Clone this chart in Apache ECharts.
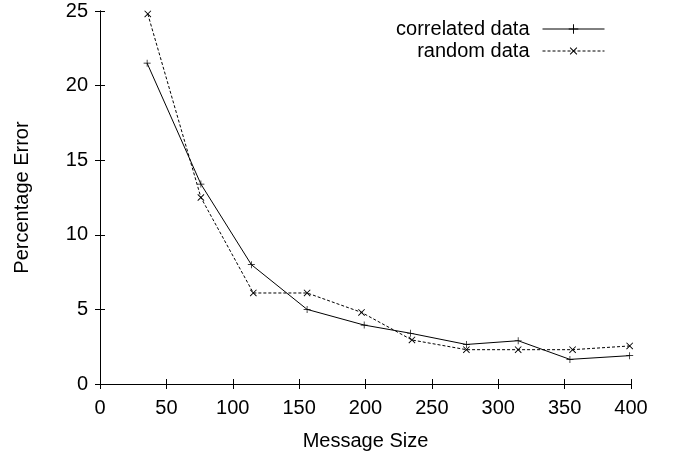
<!DOCTYPE html>
<html><head><meta charset="utf-8">
<script src="https://cdn.jsdelivr.net/npm/echarts@6/dist/echarts.min.js"></script>
<style>html,body{margin:0;padding:0;background:#fff}#c{width:676px;height:456px}</style>
</head><body><div id="c"></div>
<script>
const corrX = [35.5, 76, 114, 156, 199, 234, 276, 315, 354, 399];
const corrY = [21.5, 13.4, 8.0, 5.0, 3.95, 3.4, 2.65, 2.9, 1.65, 1.9];
const randX = [36, 76, 115.5, 156, 197, 235, 276, 315, 356, 399];
const randY = [24.8, 12.5, 6.1, 6.1, 4.8, 2.95, 2.3, 2.3, 2.3, 2.55];
const seriesNames = ['correlated data', 'random data'];
const xTicks = [0, 50, 100, 150, 200, 250, 300, 350, 400];
const yTicks = [0, 5, 10, 15, 20, 25];

const FONT = 'Liberation Sans, Arial, sans-serif';
const FS = 20;
const plus = 'path://M0,4.5H10V5.5H0Z M4.5,0H5.5V10H4.5Z';
const pair = (xs, ys) => xs.map((x, i) => [x, ys[i]]);

const axisCommon = {
  axisLine: {show: true, lineStyle: {color: '#000', width: 1}},
  axisTick: {show: true, inside: true, length: 5, lineStyle: {color: '#000'}},
  splitLine: {show: false},
};
const chart = echarts.init(document.getElementById('c'), null, {renderer: 'canvas'});
chart.setOption({
  animation: false,
  backgroundColor: '#fff',
  textStyle: {fontFamily: FONT},
  grid: {left: 100, right: 45, top: 11, bottom: 71, containLabel: false},
  legend: {
    orient: 'vertical', right: 66, top: 14, align: 'right',
    itemWidth: 62, itemHeight: 12, itemGap: 2,
    lineStyle: {width: 1},
    data: [
      {name: seriesNames[0], itemStyle: {}},
      {name: seriesNames[1], itemStyle: {}}
    ],
    textStyle: {fontFamily: FONT, fontSize: FS, color: '#000', padding: [0, 8, 0, 0]}
  },
  xAxis: [
    Object.assign({type: 'value', min: 0, max: 400, interval: 50, position: 'bottom',
      name: 'Message Size', nameLocation: 'middle', nameGap: 47,
      nameTextStyle: {fontFamily: FONT, fontSize: FS, color: '#000'},
      axisLabel: {fontFamily: FONT, fontSize: FS, color: '#000', margin: 14,
        formatter: v => xTicks.includes(v) ? String(v) : ''}}, axisCommon),
    Object.assign({type: 'value', min: 0, max: 400, interval: 50, position: 'top',
      axisLabel: {show: false}}, axisCommon)
  ],
  yAxis: [
    Object.assign({type: 'value', min: 0, max: 25, interval: 5, position: 'left',
      name: 'Percentage Error', nameLocation: 'middle', nameGap: 68,
      nameTextStyle: {fontFamily: FONT, fontSize: FS, color: '#000'},
      axisLabel: {fontFamily: FONT, fontSize: FS, color: '#000', margin: 12,
        formatter: v => yTicks.includes(v) ? String(v) : ''}}, axisCommon),
    Object.assign({type: 'value', min: 0, max: 25, interval: 5, position: 'right',
      axisLabel: {show: false}}, axisCommon)
  ],
  series: [
    {name: seriesNames[0], type: 'line', data: pair(corrX, corrY),
      symbol: plus, symbolSize: 7, showSymbol: true,
      itemStyle: {color: '#000'}, lineStyle: {color: '#000', width: 1}},
    {name: seriesNames[1], type: 'line', data: pair(randX, randY),
      symbol: plus, symbolSize: 9, symbolRotate: 45, showSymbol: true,
      itemStyle: {color: '#000'}, lineStyle: {color: '#000', width: 1, type: [3, 2]}}
  ]
});
</script></body></html>
